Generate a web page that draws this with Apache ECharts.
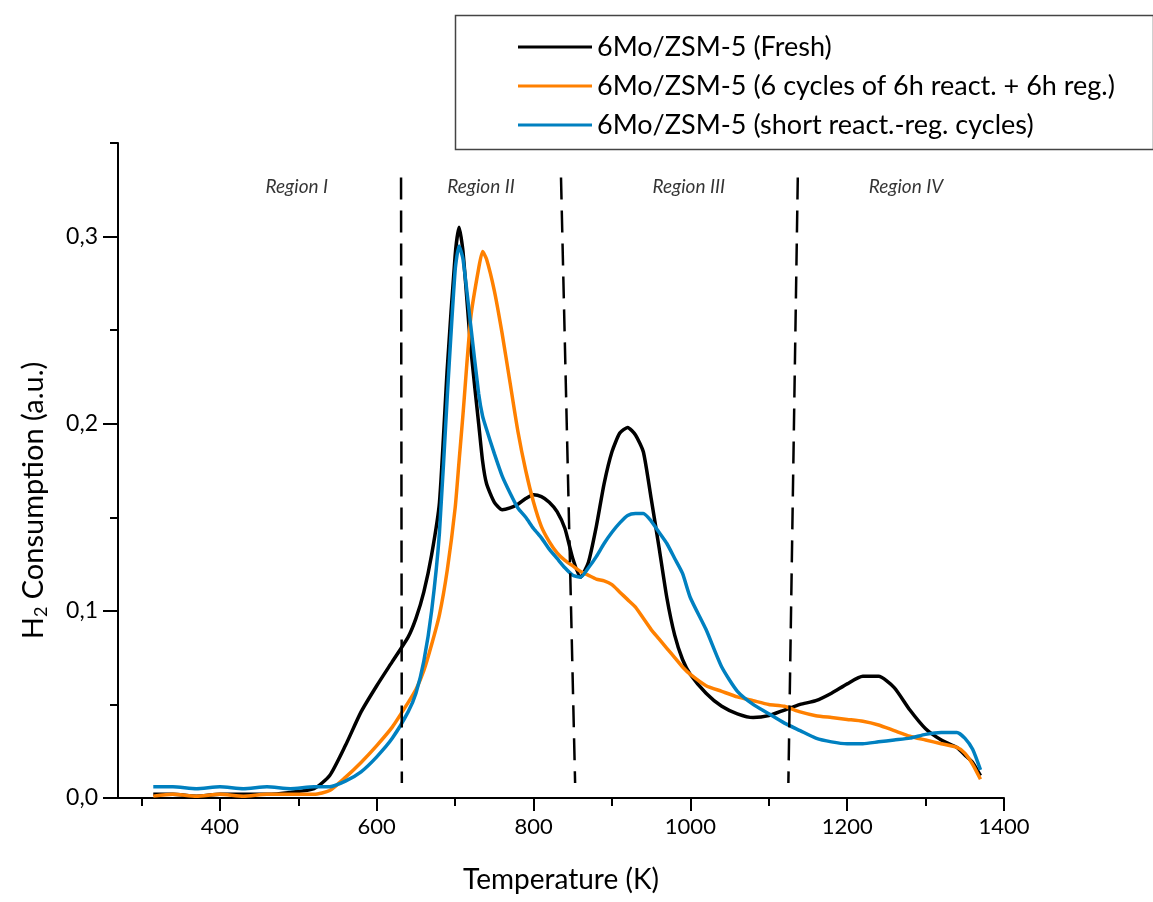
<!DOCTYPE html>
<html>
<head>
<meta charset="utf-8">
<script src="https://cdn.jsdelivr.net/npm/echarts@6/dist/echarts.min.js"></script>
<style>
html,body{margin:0;padding:0;background:#fff;}
#chart{width:1153px;height:902px;}
</style>
</head>
<body>
<div id="chart"></div>
<script>
// Temperature grid (K)
const temps = [315,340,370,400,430,460,490,520,540,560,580,600,620,640,
  650,660,670,680,690,700,705,710,720,730,735,740,
  750,760,770,780,790,800,810,820,830,840,850,860,870,880,890,900,910,920,930,940,950,960,970,980,990,1000,
  1020,1040,1060,1080,1100,1120,1140,1160,1180,1200,1220,1240,1260,1280,1300,1320,1340,
  1350,1360,1370];

// H2 consumption (a.u.)
const fresh = [0.002,0.002,0.001,0.002,0.002,0.002,0.003,0.005,0.012,0.028,0.046,0.060,0.073,0.086,
  0.096,0.110,0.130,0.158,0.230,0.290,0.305,0.292,0.240,0.200,0.180,0.168,
  0.158,0.154,0.155,0.157,0.160,0.162,0.161,0.158,0.153,0.144,0.128,0.118,0.126,0.145,0.168,0.185,0.195,0.198,0.194,0.185,0.160,0.134,0.107,0.087,0.074,0.066,
  0.056,0.049,0.045,0.043,0.044,0.047,0.050,0.052,0.056,0.061,0.065,0.065,0.059,0.047,0.037,0.031,0.027,
  0.023,0.019,0.012];

const cycles6 = [0.001,0.002,0.001,0.002,0.001,0.002,0.002,0.002,0.004,0.011,0.019,0.028,0.038,0.051,
  0.058,0.068,0.082,0.098,0.122,0.155,0.180,0.205,0.257,0.283,0.292,0.288,
  0.271,0.248,0.222,0.196,0.175,0.158,0.145,0.137,0.131,0.127,0.124,0.121,0.119,0.117,0.116,0.114,0.110,0.106,0.102,0.096,0.090,0.085,0.080,0.075,0.070,0.066,
  0.060,0.057,0.054,0.052,0.050,0.049,0.046,0.044,0.043,0.042,0.041,0.039,0.036,0.033,0.031,0.029,0.027,
  0.024,0.018,0.010];

const shortCycles = [0.006,0.006,0.005,0.006,0.005,0.006,0.005,0.006,0.006,0.009,0.014,0.022,0.032,0.046,
  0.056,0.073,0.100,0.142,0.215,0.282,0.295,0.288,0.252,0.216,0.204,0.197,
  0.184,0.172,0.163,0.155,0.150,0.144,0.139,0.133,0.128,0.123,0.119,0.118,0.123,0.129,0.136,0.142,0.147,0.151,0.152,0.152,0.148,0.142,0.136,0.128,0.120,0.107,
  0.090,0.070,0.057,0.050,0.045,0.040,0.036,0.032,0.030,0.029,0.029,0.030,0.031,0.032,0.034,0.035,0.035,
  0.032,0.026,0.015];

const seriesNames = ['6Mo/ZSM-5 (Fresh)', '6Mo/ZSM-5 (6 cycles of 6h react. + 6h reg.)', '6Mo/ZSM-5 (short react.-reg. cycles)'];
const seriesColors = ['#000000', '#ff8000', '#0080c0'];

const xLabelValues = [400,600,800,1000,1200,1400];
const xMinorValues = [300,500,700,900,1100,1300];
const yLabelValues = [0,0.1,0.2,0.3];
const yMinorValues = [0.05,0.15,0.25,0.35];

// Region boundaries (temperature at top / bottom of dashed line)
const boundaryTopT = [631, 835, 1137];
const boundaryBottomT = [632, 853, 1125];
const boundaryTopY = 0.3316;
const boundaryBottomY = 0.008;

const regionNames = ['Region I','Region II','Region III','Region IV'];
const regionCenterT = [498, 733, 998, 1275];
const regionLabelY = 0.3267;

const FONT = 'Lato, "Open Sans", sans-serif';

function pairs(xs, ys){ return xs.map((x,i)=>[x, ys[i]]); }

const dataSeries = [fresh, cycles6, shortCycles].map((vals, i) => ({
  name: seriesNames[i],
  type: 'line',
  xAxisIndex: 0, yAxisIndex: 0,
  data: pairs(temps, vals),
  showSymbol: false,
  symbol: 'none',
  smooth: 0.2,
  lineStyle: {color: seriesColors[i], width: 3.5},
  itemStyle: {color: seriesColors[i]},
  z: 2 + i
}));

const boundarySeries = boundaryTopT.map((t, i) => ({
  type: 'line',
  xAxisIndex: 0, yAxisIndex: 0,
  data: [[t, boundaryTopY], [boundaryBottomT[i], boundaryBottomY]],
  showSymbol: false,
  symbol: 'none',
  lineStyle: {color: '#000', width: 2.5, type: [22, 11]},
  z: 10,
  silent: true
}));

const regionSeries = {
  type: 'scatter',
  xAxisIndex: 0, yAxisIndex: 0,
  symbolSize: 0,
  data: regionNames.map((n, i) => ({value: [regionCenterT[i], regionLabelY], name: n})),
  label: {
    show: true, position: 'inside', formatter: p => p.name,
    fontFamily: FONT, fontStyle: 'italic', fontSize: 19, color: '#000'
  },
  silent: true, z: 11
};

const chart = echarts.init(document.getElementById('chart'), null, {renderer: 'canvas'});
chart.setOption({
  animation: false,
  backgroundColor: '#fff',
  grid: {left: 118, right: 149, top: 143, bottom: 104, containLabel: false},
  legend: {
    data: seriesNames,
    orient: 'vertical',
    left: 513, top: 28,
    itemWidth: 74, itemHeight: 3, itemGap: 11,
    icon: 'rect',
    textStyle: {fontFamily: FONT, fontSize: 27, color: '#000', lineHeight: 28},
    selectedMode: false
  },
  graphic: [{
    type: 'rect', left: 453, top: 13,
    shape: {width: 698, height: 134},
    style: {fill: 'none', stroke: '#444', lineWidth: 1.5},
    z: -1
  }],
  xAxis: [{
    type: 'value', min: 270, max: 1400, position: 'bottom',
    name: 'Temperature (K)', nameLocation: 'middle', nameGap: 68,
    nameTextStyle: {fontFamily: FONT, fontSize: 28, color: '#000'},
    axisLine: {show: true, onZero: false, lineStyle: {color: '#000', width: 2}},
    axisTick: {show: true, inside: false, length: 13, lineStyle: {color: '#000', width: 2}, customValues: xLabelValues},
    axisLabel: {show: true, margin: 18, fontFamily: FONT, fontSize: 22, color: '#000',
      customValues: xLabelValues, formatter: v => String(v)},
    splitLine: {show: false}
  }, {
    type: 'value', min: 270, max: 1400, position: 'bottom',
    axisLine: {show: false},
    axisTick: {show: true, inside: false, length: 8, lineStyle: {color: '#000', width: 2}, customValues: xMinorValues},
    axisLabel: {show: false},
    splitLine: {show: false}
  }],
  yAxis: [{
    type: 'value', min: 0, max: 0.35, position: 'left',
    name: '{n|H}{s|2}{n| Consumption (a.u.)}', nameLocation: 'middle', nameGap: 68,
    nameTextStyle: {
      padding: [0, 60, 0, 0],
      rich: {
        n: {fontFamily: FONT, fontSize: 29, color: '#000', lineHeight: 32},
        s: {fontFamily: FONT, fontSize: 18, color: '#000', lineHeight: 18, verticalAlign: 'bottom'}
      }
    },
    axisLine: {show: true, onZero: false, lineStyle: {color: '#000', width: 2}},
    axisTick: {show: true, inside: false, length: 15, lineStyle: {color: '#000', width: 2}, customValues: yLabelValues},
    axisLabel: {show: true, margin: 20, fontFamily: FONT, fontSize: 23, color: '#000',
      customValues: yLabelValues, formatter: v => v.toFixed(1).replace('.', ',')},
    splitLine: {show: false}
  }, {
    type: 'value', min: 0, max: 0.35, position: 'left',
    axisLine: {show: false},
    axisTick: {show: true, inside: false, length: 8, lineStyle: {color: '#000', width: 2}, customValues: yMinorValues},
    axisLabel: {show: false},
    splitLine: {show: false}
  }],
  series: [...dataSeries, ...boundarySeries, regionSeries]
});
</script>
</body>
</html>
